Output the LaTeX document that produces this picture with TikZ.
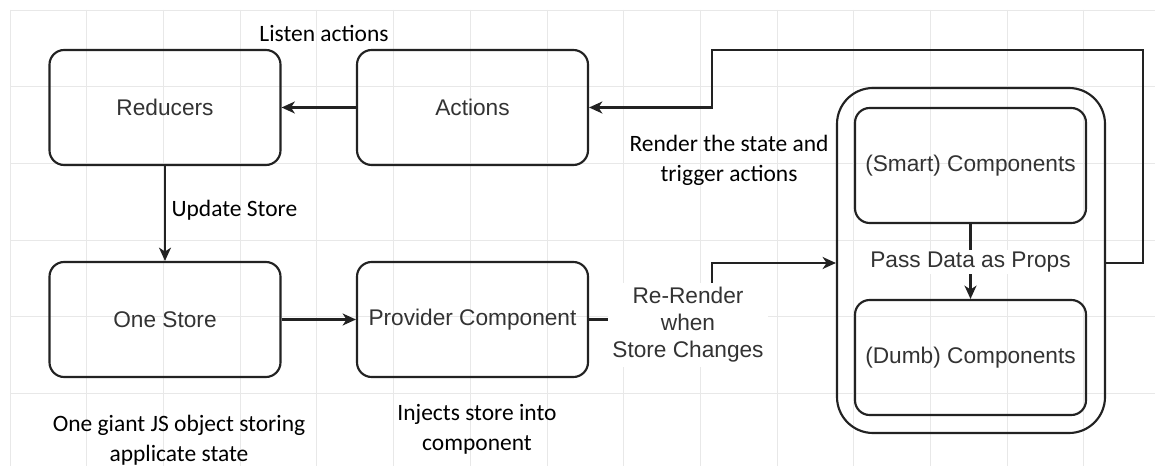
\documentclass[tikz,border=0pt]{standalone}
\usepackage{fontspec}
\setmainfont{Carlito}
\newfontfamily\helv{Liberation Sans}
\usetikzlibrary{arrows.meta,calc}
\definecolor{gridc}{HTML}{E8E8E8}
\definecolor{linec}{HTML}{222222}
\definecolor{boxtxt}{HTML}{333333}
\tikzset{
  box/.style={draw=linec, line width=1.6pt, rounded corners=11pt, rectangle,
    minimum width=173.25pt, minimum height=86.25pt, inner sep=0pt,
    font=\helv\fontsize{17}{20}\selectfont, text=boxtxt},
  container/.style={draw=linec, line width=1.6pt, rounded corners=27pt, rectangle,
    minimum width=201pt, minimum height=258.75pt, inner sep=0pt},
  conn/.style={draw=linec, line width=1.6pt, -{Stealth[length=10pt,width=9pt,inset=3pt]}},
  note/.style={font=\fontsize{17.6}{22.5}\selectfont, text=black, align=center, inner sep=1pt},
  hlabel/.style={font=\helv\fontsize{17}{20}\selectfont, text=boxtxt, align=center, fill=white, inner sep=1.5pt},
}
\begin{document}
\begin{tikzpicture}[x=0.75pt,y=-0.75pt]
\useasboundingbox (0,0) rectangle (1155,466);
\fill[white] (0,0) rectangle (1155,466);
% grid
\foreach \k in {0,...,14} {
  \draw[gridc, line width=0.6pt] ({10+76.7*\k},10) -- ({10+76.7*\k},466);
}
\foreach \k in {0,...,5} {
  \draw[gridc, line width=0.6pt] (10,{10+76.7*\k}) -- (1155,{10+76.7*\k});
}
% boxes
\node[box] (red) at (165,107.5) {Reducers};
\node[box] (act) at (472.5,107.5) {Actions};
\node[box] (store) at (165,319.5) {One Store};
\node[box] (prov) at (472.5,319.5) {Provider Component};
\node[container] (cont) at (971,260.5) {};
\node[box] (smart) at (970.5,165.5) {(Smart) Components};
\node[box] (dumb) at (970.5,357.5) {(Dumb) Components};
% connectors
\draw[conn] (act.west) -- (red.east);
\draw[conn] (red.south) -- (store.north);
\draw[conn] (store.east) -- (prov.west);
\coordinate (rr) at (712,263);
\draw[conn] (prov.east) -| (rr) -- (rr -| cont.west);
\coordinate (lr) at (1143,263);
\coordinate (lt) at (1143,50);
\coordinate (lu) at (712,50);
\draw[conn] (cont.east |- lr) -- (lr) -- (lt) -- (lu) |- (act.east);
\draw[conn] (smart.south) -- (dumb.north);
% labels
\node[hlabel] (pass) at (970.5,262) {Pass Data as Props};
\node[hlabel, font=\helv\fontsize{17}{20.25}\selectfont, inner sep=3pt] (rerender) at (688,325) {Re-Render\\when\\Store Changes};
\node[note] (listen) at (324,33) {Listen actions};
\node[note, anchor=west] (upd) at (170,210) {Update Store};
\node[note] (render) at (729,160) {Render the state and\\trigger actions};
\node[note] (giant) at (179,440) {One giant JS object storing\\applicate state};
\node[note] (inject) at (477,429) {Injects store into\\component};
\end{tikzpicture}
\end{document}
